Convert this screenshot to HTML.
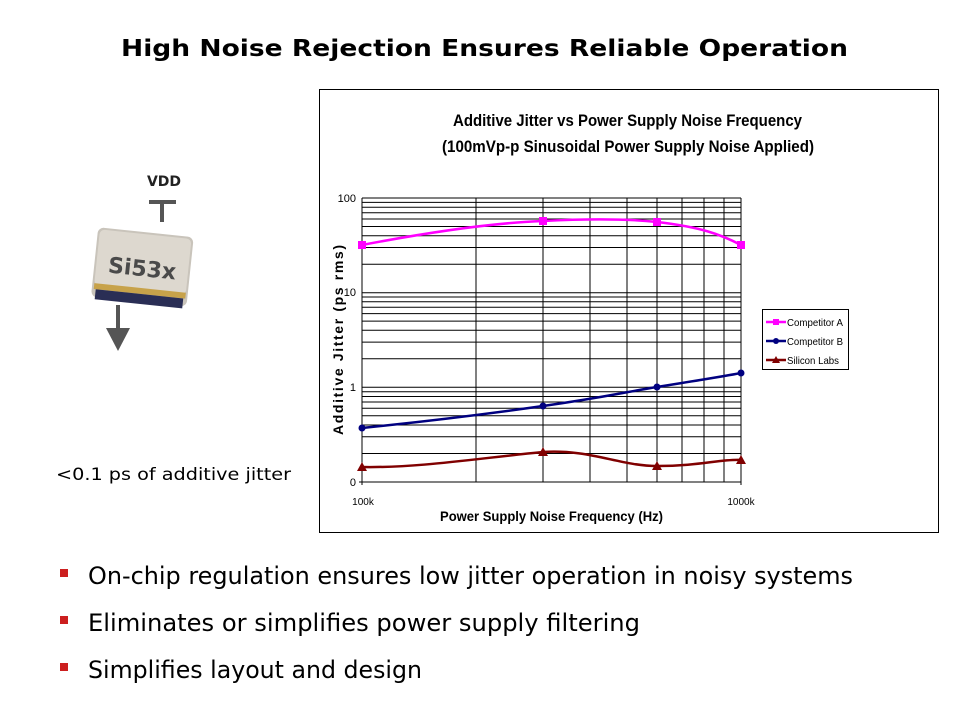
<!DOCTYPE html>
<html><head><style>
body{margin:0;width:960px;height:720px;background:#fff;overflow:hidden;font-family:"DejaVu Sans",sans-serif}
</style></head><body>
<svg width="960" height="720" viewBox="0 0 960 720" xmlns="http://www.w3.org/2000/svg" font-family="DejaVu Sans, sans-serif">
<text x="121" y="56" font-size="23" font-weight="bold" fill="#000" textLength="727" lengthAdjust="spacingAndGlyphs">High Noise Rejection Ensures Reliable Operation</text>
<!-- chip graphic -->
<text x="164" y="186" text-anchor="middle" font-size="14" font-weight="bold" fill="#222">VDD</text>
<line x1="149" y1="202" x2="176" y2="202" stroke="#555" stroke-width="4"/>
<line x1="162" y1="202" x2="162" y2="222" stroke="#555" stroke-width="4"/>
<g transform="rotate(6 142 270)">
<rect x="94" y="232" width="96" height="70" rx="6" fill="#c9c4bb"/>
<rect x="96" y="234" width="92" height="56" rx="5" fill="#ddd8cf"/>
<rect x="96" y="288" width="92" height="6" fill="#c7a24a"/>
<rect x="98" y="294" width="88" height="10" fill="#2a2e55"/>
<text x="142" y="276" text-anchor="middle" font-size="22" font-weight="bold" fill="#4a4a4a">Si53x</text>
</g>
<line x1="118" y1="305" x2="118" y2="330" stroke="#555" stroke-width="4"/>
<polygon points="106,328 130,328 118,351" fill="#555"/>
<text x="56" y="480" font-size="17" fill="#000" textLength="235" lengthAdjust="spacingAndGlyphs">&lt;0.1 ps of additive jitter</text>
<!-- chart box -->
<rect x="319.5" y="89.5" width="619" height="443" fill="#fff" stroke="#000" stroke-width="1"/>
<g font-family="Liberation Sans, sans-serif">
<text x="453" y="126" font-size="17" font-weight="bold" textLength="349" lengthAdjust="spacingAndGlyphs">Additive Jitter vs Power Supply Noise Frequency</text>
<text x="442" y="152" font-size="17" font-weight="bold" textLength="372" lengthAdjust="spacingAndGlyphs">(100mVp-p Sinusoidal Power Supply Noise Applied)</text>
<g stroke="#000" stroke-width="1">
<path d="M362 453.5H741M362 436.8H741M362 425H741M362 415.8H741M362 408.3H741M362 402H741M362 396.5H741M362 391.7H741M362 387.3H741M362 358.8H741M362 342.1H741M362 330.3H741M362 321.1H741M362 313.6H741M362 307.3H741M362 301.8H741M362 297H741M362 292.7H741M362 264.2H741M362 247.5H741M362 235.7H741M362 226.5H741M362 219H741M362 212.7H741M362 207.2H741M362 202.4H741M362 198H741M359 482H741"/>
<path d="M362 198V485M476 198V482M543 198V482M590 198V482M627 198V482M657 198V482M682 198V482M704 198V482M724 198V482M741 198V485"/>
</g>
<g font-size="11" fill="#000">
<text x="356" y="202" text-anchor="end">100</text>
<text x="356" y="296" text-anchor="end">10</text>
<text x="356" y="391" text-anchor="end">1</text>
<text x="356" y="486" text-anchor="end">0</text>
<text x="363" y="505" text-anchor="middle" font-size="10">100k</text>
<text x="741" y="505" text-anchor="middle" font-size="10">1000k</text>
</g>
<text x="440" y="521" font-size="14" font-weight="bold" textLength="223" lengthAdjust="spacingAndGlyphs">Power Supply Noise Frequency (Hz)</text>
<text x="0" y="0" font-size="14" font-weight="bold" text-anchor="middle" textLength="190" lengthAdjust="spacing" transform="translate(343 340) rotate(-90)">Additive Jitter (ps rms)</text>
<!-- series -->
<path d="M362 245 C 430 232, 490 223, 543 221 C 580 219, 620 218, 657 222 C 700 227, 720 234, 741 245" fill="none" stroke="#ff00ff" stroke-width="2.5"/>
<g fill="#ff00ff"><rect x="358" y="241" width="8" height="8"/><rect x="539" y="217" width="8" height="8"/><rect x="653" y="218" width="8" height="8"/><rect x="737" y="241" width="8" height="8"/></g>
<path d="M362 428 C 420 422, 480 415, 543 406 S 620 393, 657 387 S 720 377, 741 373" fill="none" stroke="#000080" stroke-width="2.5"/>
<g fill="#000080"><circle cx="362" cy="428" r="3.5"/><circle cx="543" cy="406" r="3.5"/><circle cx="657" cy="387" r="3.5"/><circle cx="741" cy="373" r="3.5"/></g>
<path d="M362 467 C 420 468, 480 458, 543 452 C 590 449, 620 466, 657 466 C 700 466, 720 459, 741 460" fill="none" stroke="#800000" stroke-width="2.5"/>
<g fill="#800000"><polygon points="362,462 367,471 357,471"/><polygon points="543,447 548,456 538,456"/><polygon points="657,461 662,470 652,470"/><polygon points="741,455 746,464 736,464"/></g>
<!-- legend -->
<rect x="762.5" y="309.5" width="86" height="60" fill="#fff" stroke="#000"/>
<g font-size="10.5" fill="#000">
<line x1="766" y1="322" x2="786" y2="322" stroke="#ff00ff" stroke-width="2.5"/><rect x="773" y="319" width="6" height="6" fill="#ff00ff"/>
<text x="787" y="326" textLength="56" lengthAdjust="spacingAndGlyphs">Competitor A</text>
<line x1="766" y1="341" x2="786" y2="341" stroke="#000080" stroke-width="2.5"/><circle cx="776" cy="341" r="3" fill="#000080"/>
<text x="787" y="345" textLength="56" lengthAdjust="spacingAndGlyphs">Competitor B</text>
<line x1="766" y1="360" x2="786" y2="360" stroke="#800000" stroke-width="2.5"/><polygon points="776,356 780,363 772,363" fill="#800000"/>
<text x="787" y="364" textLength="52" lengthAdjust="spacingAndGlyphs">Silicon Labs</text>
</g>
</g>
<!-- bullets -->
<g fill="#cc1f1f"><rect x="60" y="569" width="8" height="8"/><rect x="60" y="616" width="8" height="8"/><rect x="60" y="663" width="8" height="8"/></g>
<g font-size="24" fill="#000">
<text x="88" y="584" textLength="765" lengthAdjust="spacingAndGlyphs">On-chip regulation ensures low jitter operation in noisy systems</text>
<text x="88" y="631" textLength="552" lengthAdjust="spacingAndGlyphs">Eliminates or simplifies power supply filtering</text>
<text x="88" y="678" textLength="334" lengthAdjust="spacingAndGlyphs">Simplifies layout and design</text>
</g>
</svg>
</body></html>
